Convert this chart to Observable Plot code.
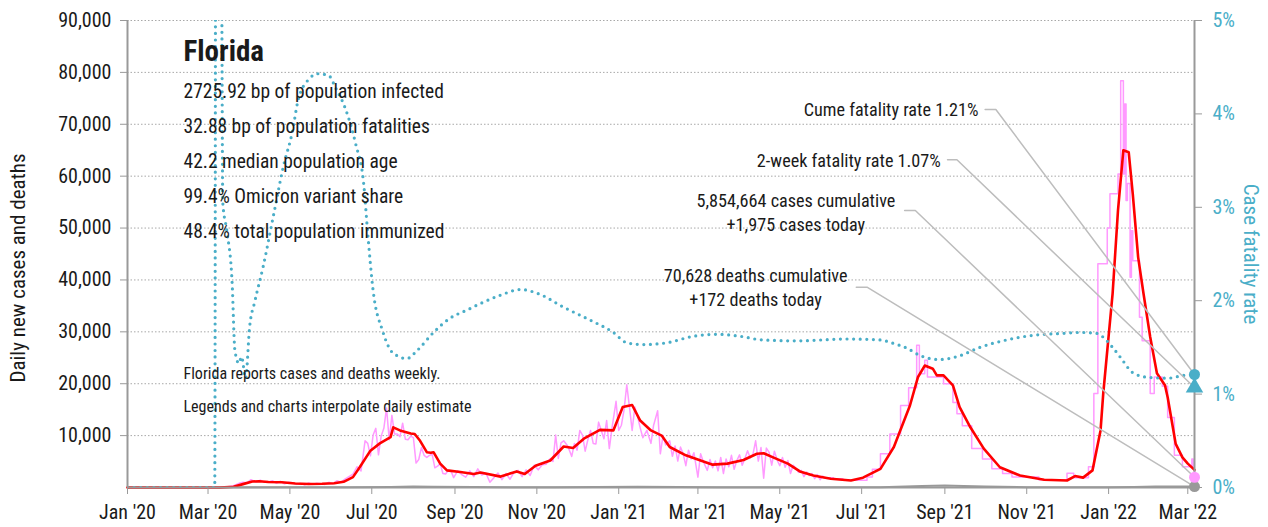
<!DOCTYPE html>
<html><head><meta charset="utf-8">
<script src="https://cdn.jsdelivr.net/npm/d3@7"></script>
<script src="https://cdn.jsdelivr.net/npm/@observablehq/plot@0.6"></script>
<style>
html,body{margin:0;padding:0;background:#fff;}
#chart svg{display:block;}
</style></head><body><div id="chart"></div>
<script>
// ---------- DATA ----------
const stateName = "Florida";
const statLines = [
  "2725.92 bp of population infected",
  "32.88 bp of population fatalities",
  "42.2 median population age",
  "99.4% Omicron variant share",
  "48.4% total population immunized"
];
const noteLines = [
  "Florida reports cases and deaths weekly.",
  "Legends and charts interpolate daily estimate"
];
const cumeRate = 1.21, twoWeekRate = 1.07;
const casesCumulative = "5,854,664", casesToday = 1975;
const deathsCumulative = "70,628", deathsToday = 172;

const leftTicks = [10000,20000,30000,40000,50000,60000,70000,80000,90000];
const rateTicks = [0,1,2,3,4,5];
const xTickDates = ["2020-01-01","2020-03-01","2020-05-01","2020-07-01","2020-09-01","2020-11-01",
  "2021-01-01","2021-03-01","2021-05-01","2021-07-01","2021-09-01","2021-11-01","2022-01-01","2022-03-01"];
const xTickLabels = ["Jan '20","Mar '20","May '20","Jul '20","Sep '20","Nov '20",
  "Jan '21","Mar '21","May '21","Jul '21","Sep '21","Nov '21","Jan '22","Mar '22"];

// smoothed daily new cases (red)
const casesSmoothed = [["2020-01-01",0],["2020-03-10",0],["2020-03-20",150],["2020-03-27",650],["2020-04-03",1150],["2020-04-08",1200],["2020-04-15",1050],["2020-04-25",1000],["2020-05-05",780],["2020-05-15",680],["2020-05-25",720],["2020-06-03",820],["2020-06-10",1100],["2020-06-17",2000],["2020-06-22",3900],["2020-06-30",7100],["2020-07-07",8500],["2020-07-15",9700],["2020-07-17",11600],["2020-07-22",11000],["2020-07-30",10400],["2020-08-02",10300],["2020-08-06",9000],["2020-08-11",6800],["2020-08-14",6700],["2020-08-16",6800],["2020-08-21",4600],["2020-08-26",3300],["2020-09-05",3000],["2020-09-15",2600],["2020-09-20",2900],["2020-10-05",2100],["2020-10-17",3100],["2020-10-23",2600],["2020-10-31",4200],["2020-11-11",5200],["2020-11-21",7900],["2020-11-28",7600],["2020-12-06",9400],["2020-12-18",11100],["2020-12-28",11000],["2021-01-04",15500],["2021-01-11",15900],["2021-01-17",12900],["2021-01-25",11000],["2021-02-02",10000],["2021-02-08",7800],["2021-02-20",6200],["2021-03-03",5200],["2021-03-12",4400],["2021-03-23",4600],["2021-04-04",5300],["2021-04-14",6500],["2021-04-19",6600],["2021-04-26",5800],["2021-05-07",4600],["2021-05-16",3100],["2021-05-26",2300],["2021-06-08",1700],["2021-06-23",1350],["2021-07-02",1900],["2021-07-15",3600],["2021-07-25",7800],["2021-08-06",15800],["2021-08-12",21300],["2021-08-17",23500],["2021-08-23",22900],["2021-08-26",21600],["2021-08-31",21600],["2021-09-07",19700],["2021-09-12",15500],["2021-09-20",11600],["2021-09-30",7500],["2021-10-12",3900],["2021-10-27",2300],["2021-11-14",1500],["2021-12-01",1350],["2021-12-07",2200],["2021-12-13",1900],["2021-12-20",3300],["2021-12-26",11000],["2021-12-28",18100],["2022-01-04",37400],["2022-01-08",53400],["2022-01-12",65000],["2022-01-16",64600],["2022-01-19",56600],["2022-01-23",44400],["2022-01-27",37400],["2022-02-01",29000],["2022-02-06",22000],["2022-02-12",19700],["2022-02-14",17400],["2022-02-20",8400],["2022-02-25",5800],["2022-03-01",4600],["2022-03-06",3400]];

// raw daily new cases (pink), daily reporting period
const casesRawDaily = [["2020-03-01",0],["2020-03-10",30],["2020-03-15",120],["2020-03-20",350],["2020-03-24",800],["2020-03-27",1000],["2020-03-30",900],["2020-04-02",1500],["2020-04-04",1250],["2020-04-06",1100],["2020-04-09",1400],["2020-04-12",1000],["2020-04-15",1050],["2020-04-18",1300],["2020-04-21",800],["2020-04-24",1200],["2020-04-27",700],["2020-04-30",1000],["2020-05-03",900],["2020-05-06",600],["2020-05-09",800],["2020-05-12",500],["2020-05-15",900],["2020-05-18",600],["2020-05-21",800],["2020-05-24",700],["2020-05-27",600],["2020-05-30",1000],["2020-06-02",700],["2020-06-05",1300],["2020-06-08",1000],["2020-06-11",1600],["2020-06-14",2100],["2020-06-17",2600],["2020-06-20",4000],["2020-06-23",3200],["2020-06-26",9000],["2020-06-28",8500],["2020-06-30",6100],["2020-07-02",10100],["2020-07-04",11400],["2020-07-06",6300],["2020-07-08",9900],["2020-07-10",11400],["2020-07-12",15300],["2020-07-14",9200],["2020-07-16",13900],["2020-07-18",10300],["2020-07-20",10300],["2020-07-22",9800],["2020-07-24",12400],["2020-07-26",9300],["2020-07-28",9200],["2020-07-30",9900],["2020-08-01",9600],["2020-08-03",4700],["2020-08-05",5400],["2020-08-07",7700],["2020-08-09",6200],["2020-08-11",5800],["2020-08-13",6200],["2020-08-15",6400],["2020-08-17",3800],["2020-08-19",4100],["2020-08-21",4600],["2020-08-23",2700],["2020-08-25",2600],["2020-08-27",3300],["2020-08-29",3200],["2020-08-31",1900],["2020-09-03",3200],["2020-09-06",2500],["2020-09-09",2000],["2020-09-12",3200],["2020-09-15",2100],["2020-09-18",3600],["2020-09-21",2400],["2020-09-24",2800],["2020-09-27",1000],["2020-09-30",1900],["2020-10-03",2800],["2020-10-06",1500],["2020-10-09",2700],["2020-10-12",1600],["2020-10-15",2900],["2020-10-18",3300],["2020-10-21",2100],["2020-10-24",3400],["2020-10-27",2300],["2020-10-30",4300],["2020-11-02",3400],["2020-11-05",4400],["2020-11-08",4500],["2020-11-11",5600],["2020-11-13",5000],["2020-11-15",10100],["2020-11-17",5600],["2020-11-19",8600],["2020-11-21",9000],["2020-11-24",8000],["2020-11-27",6000],["2020-11-29",8500],["2020-12-01",7200],["2020-12-03",11000],["2020-12-05",10100],["2020-12-07",7000],["2020-12-09",9200],["2020-12-11",11000],["2020-12-13",8500],["2020-12-15",8400],["2020-12-17",12600],["2020-12-19",11000],["2020-12-21",9400],["2020-12-23",12900],["2020-12-25",7500],["2020-12-27",11500],["2020-12-30",16600],["2021-01-01",11000],["2021-01-03",12000],["2021-01-05",15000],["2021-01-07",19800],["2021-01-09",15500],["2021-01-11",11000],["2021-01-13",15500],["2021-01-15",13700],["2021-01-17",11500],["2021-01-19",9600],["2021-01-22",11000],["2021-01-25",8500],["2021-01-27",12000],["2021-01-30",14800],["2021-02-01",6500],["2021-02-03",10000],["2021-02-05",8200],["2021-02-08",9000],["2021-02-10",6000],["2021-02-12",8000],["2021-02-14",5100],["2021-02-16",7800],["2021-02-18",6500],["2021-02-20",4200],["2021-02-22",7200],["2021-02-24",5500],["2021-02-26",6700],["2021-03-01",2000],["2021-03-03",6500],["2021-03-05",5000],["2021-03-08",3300],["2021-03-10",5400],["2021-03-12",3800],["2021-03-14",5100],["2021-03-16",3200],["2021-03-18",5800],["2021-03-20",2700],["2021-03-22",5500],["2021-03-24",4000],["2021-03-26",6200],["2021-03-28",3500],["2021-03-30",5200],["2021-04-01",6300],["2021-04-03",4300],["2021-04-05",5600],["2021-04-07",7100],["2021-04-09",5700],["2021-04-11",6400],["2021-04-13",9000],["2021-04-15",5100],["2021-04-17",7700],["2021-04-19",1800],["2021-04-21",7600],["2021-04-23",6800],["2021-04-25",4300],["2021-04-27",7000],["2021-04-29",5300],["2021-05-01",4200],["2021-05-03",5800],["2021-05-05",3900],["2021-05-07",5200],["2021-05-09",2700],["2021-05-11",4300],["2021-05-13",3700],["2021-05-15",2900],["2021-05-17",3300],["2021-05-19",2100],["2021-05-21",3000],["2021-05-23",2300],["2021-05-25",2700],["2021-05-27",1700],["2021-05-29",2500],["2021-05-31",1500],["2021-06-02",2200],["2021-06-03",1900]];

// raw new cases (pink), weekly reporting period (stepped)
const casesRawWeekly = [["2021-06-03",1900],["2021-06-10",1700],["2021-06-17",1500],["2021-06-24",1400],["2021-07-05",2000],["2021-07-09",3500],["2021-07-15",6500],["2021-07-22",10300],["2021-07-30",15800],["2021-08-05",19200],["2021-08-11",27400],["2021-08-13",21900],["2021-08-17",24500],["2021-08-19",21300],["2021-08-31",20000],["2021-09-07",16400],["2021-09-10",14200],["2021-09-14",11900],["2021-09-21",7500],["2021-09-29",5500],["2021-10-06",3600],["2021-10-14",2700],["2021-10-21",2000],["2021-11-10",1500],["2021-12-01",2750],["2021-12-06",1900],["2021-12-17",4000],["2021-12-21",18100],["2021-12-24",43100],["2021-12-31",50000],["2022-01-02",56600],["2022-01-08",60400],["2022-01-10",78400],["2022-01-12",60400],["2022-01-13",73900],["2022-01-14",55300],["2022-01-15",58600],["2022-01-17",40500],["2022-01-18",49500],["2022-01-19",43700],["2022-01-24",32800],["2022-01-26",28300],["2022-02-01",18100],["2022-02-04",21300],["2022-02-10",19500],["2022-02-14",13500],["2022-02-19",6200],["2022-02-25",4000],["2022-03-04",5500],["2022-03-05",3600],["2022-03-06",1975]];

// daily deaths (gray)
const deathsDaily = [["2020-01-01",0],["2020-03-06",0],["2020-04-01",30],["2020-04-15",50],["2020-05-15",40],["2020-06-15",35],["2020-07-15",110],["2020-08-01",170],["2020-08-15",160],["2020-09-15",90],["2020-10-15",60],["2020-11-15",60],["2020-12-15",100],["2021-01-15",160],["2021-02-15",110],["2021-03-15",60],["2021-04-15",55],["2021-05-15",50],["2021-06-15",35],["2021-07-15",60],["2021-08-15",300],["2021-09-01",370],["2021-09-15",300],["2021-10-01",180],["2021-11-01",60],["2021-12-01",30],["2022-01-01",40],["2022-01-20",120],["2022-02-05",200],["2022-02-20",180],["2022-03-06",172]];

// case fatality rate, percent (teal dotted)
const fatalityRate = [["2020-01-01",0],["2020-03-06",0],["2020-03-07",9],["2020-03-11",6],["2020-03-12",3.05],["2020-03-15",2.75],["2020-03-19",2.18],["2020-03-21",1.47],["2020-03-24",1.33],["2020-03-26",1.4],["2020-03-29",1.17],["2020-04-01",1.72],["2020-04-05",2.0],["2020-04-11",2.36],["2020-04-19",2.93],["2020-04-26",3.43],["2020-05-03",3.82],["2020-05-07",4.14],["2020-05-15",4.37],["2020-05-22",4.43],["2020-05-30",4.41],["2020-06-04",4.28],["2020-06-11",4.07],["2020-06-19",3.68],["2020-06-25",3.25],["2020-06-28",2.72],["2020-07-02",2.11],["2020-07-09",1.68],["2020-07-15",1.47],["2020-07-20",1.41],["2020-07-27",1.38],["2020-08-04",1.47],["2020-08-16",1.66],["2020-08-28",1.81],["2020-09-10",1.9],["2020-09-20",1.97],["2020-10-05",2.06],["2020-10-20",2.12],["2020-11-03",2.07],["2020-11-21",1.93],["2020-12-11",1.79],["2020-12-28",1.66],["2021-01-07",1.55],["2021-01-19",1.53],["2021-02-06",1.55],["2021-02-26",1.62],["2021-03-16",1.64],["2021-04-01",1.62],["2021-04-18",1.58],["2021-05-14",1.57],["2021-06-20",1.59],["2021-07-15",1.58],["2021-07-23",1.55],["2021-08-04",1.49],["2021-08-14",1.41],["2021-08-28",1.37],["2021-09-12",1.41],["2021-09-27",1.5],["2021-10-14",1.57],["2021-11-06",1.63],["2021-11-28",1.65],["2021-12-11",1.66],["2021-12-23",1.65],["2021-12-26",1.63],["2022-01-04",1.5],["2022-01-10",1.39],["2022-01-19",1.23],["2022-01-30",1.18],["2022-02-14",1.17],["2022-02-26",1.2],["2022-03-06",1.21]];

// ---------- LAYOUT / STYLE ----------
const FONT = '"Roboto Condensed", Roboto, sans-serif';
const TEAL = "#4aaec8", PINK = "#ff99ff", RED = "#ff0000", GRAY = "#999", LEADER = "#bdbdbd";
const parse = d3.utcParse("%Y-%m-%d");
const pts = arr => arr.map(([d, v]) => ({date: parse(d), value: v}));
const xStart = parse("2020-01-01"), xEnd = parse("2022-03-06");
const R2Y = 90000 / 5;  // right-axis percent to left-axis units

const annotations = [
  {text: `Cume fatality rate ${cumeRate}%`, x: "2021-09-26", y: 72650, anchor: "end", lx: ["2021-10-01","2021-10-09"], ly: 72840, target: cumeRate * R2Y},
  {text: `2-week fatality rate ${twoWeekRate}%`, x: "2021-08-29", y: 62820, anchor: "end", lx: ["2021-09-03","2021-09-10"], ly: 63150, target: twoWeekRate * R2Y},
  {text: `${casesCumulative} cases cumulative\n+${d3.format(",")(casesToday)} cases today`, x: "2021-05-13", y: 57300, anchor: "middle", lx: ["2021-08-02","2021-08-10"], ly: 53380, target: casesToday, lh: 1.32},
  {text: `${deathsCumulative} deaths cumulative\n+${deathsToday} deaths today`, x: "2021-04-13", y: 43100, anchor: "middle", lx: ["2021-06-27","2021-07-05"], ly: 38600, target: deathsToday, lh: 1.37}
];
const leaderData = annotations.flatMap((a, i) => [
  {k: i, date: parse(a.lx[0]), value: a.ly},
  {k: i, date: parse(a.lx[1]), value: a.ly},
  {k: i, date: xEnd, value: a.target}
]);

const annText = a => Plot.text([a], {
  x: d => parse(d.x), y: "y", text: "text", textAnchor: a.anchor,
  lineAnchor: a.lh ? "top" : "middle", lineHeight: a.lh || 1, fontSize: 18.2, fill: "#1a1a1a"
});

const chart = Plot.plot({
  width: 1268, height: 527,
  marginLeft: 127, marginRight: 74, marginTop: 20, marginBottom: 40,
  style: {fontFamily: FONT, fontSize: "20px", background: "#fff", color: "#1a1a1a", overflow: "visible"},
  x: {type: "utc", domain: [xStart, xEnd]},
  y: {domain: [0, 90000]},
  marks: [
    Plot.ruleY(leftTicks, {stroke: "#a8a8a8", strokeDasharray: "1.5,2"}),
    Plot.line(pts(casesRawDaily), {x: "date", y: "value", stroke: PINK, strokeWidth: 1.5}),
    Plot.line(pts(casesRawWeekly), {x: "date", y: "value", stroke: PINK, strokeWidth: 1.5, curve: "step-after"}),
    Plot.line(pts(deathsDaily), {x: "date", y: "value", stroke: GRAY, strokeWidth: 2}),
    Plot.line(pts(casesSmoothed), {x: "date", y: "value", stroke: RED, strokeWidth: 2.6}),
    Plot.line(pts(fatalityRate), {x: "date", y: d => d.value * R2Y, stroke: TEAL, strokeWidth: 3.2,
      strokeDasharray: "0,6.6", strokeLinecap: "round", curve: "monotone-x", clip: true}),
    Plot.ruleX([xStart], {stroke: GRAY, strokeWidth: 2}),
    Plot.ruleX([xEnd], {stroke: GRAY, strokeWidth: 2}),
    Plot.ruleY([0], {stroke: GRAY, strokeWidth: 2}),
    Plot.axisY({anchor: "left", ticks: leftTicks, tickFormat: d3.format(","), tickSize: 7, tickPadding: 9,
      stroke: GRAY, fill: "#1a1a1a", fontSize: 20, label: null}),
    Plot.axisY({anchor: "right", ticks: rateTicks.map(r => r * R2Y), tickFormat: d => `${Math.round(d / R2Y)}%`,
      tickSize: 7, tickPadding: 11, stroke: GRAY, fill: TEAL, fontSize: 20, label: null}),
    Plot.axisX({ticks: xTickDates.map(parse), tickFormat: (d, i) => xTickLabels[i], tickSize: 7, tickPadding: 10,
      stroke: GRAY, fill: "#1a1a1a", fontSize: 20, label: null}),
    Plot.text(["Daily new cases and deaths"], {text: d => d, frameAnchor: "left", textAnchor: "middle", dx: -109, dy: 14, rotate: -90, fontSize: 21}),
    Plot.text(["Case fatality rate"], {text: d => d, frameAnchor: "right", textAnchor: "middle", dx: 56, rotate: 90, fontSize: 21, fill: TEAL}),
    Plot.text([stateName], {text: d => d, frameAnchor: "top-left", dx: 56, dy: 20, lineAnchor: "top", textAnchor: "start", fontSize: 29, fontWeight: 700}),
    Plot.text([statLines.join("\n")], {text: d => d, frameAnchor: "top-left", dx: 56, dy: 53, lineAnchor: "top", textAnchor: "start", fontSize: 19.5, lineHeight: 1.795}),
    Plot.text([noteLines.join("\n")], {text: d => d, frameAnchor: "top-left", dx: 56, dy: 335, lineAnchor: "top", textAnchor: "start", fontSize: 16, lineHeight: 2.06}),
    Plot.line(leaderData, {x: "date", y: "value", z: "k", stroke: LEADER, strokeWidth: 1.5}),
    ...annotations.map(annText),
    Plot.dot([{date: xEnd, value: deathsToday}], {x: "date", y: "value", r: 5.5, fill: GRAY}),
    Plot.dot([{date: xEnd, value: casesToday}], {x: "date", y: "value", r: 5.5, fill: PINK}),
    Plot.dot([{date: xEnd, value: twoWeekRate * R2Y}], {x: "date", y: "value", r: 6.5, symbol: "triangle", fill: TEAL}),
    Plot.dot([{date: xEnd, value: cumeRate * R2Y}], {x: "date", y: "value", r: 5.5, fill: TEAL})
  ]
});
document.getElementById("chart").append(chart);
</script></body></html>
